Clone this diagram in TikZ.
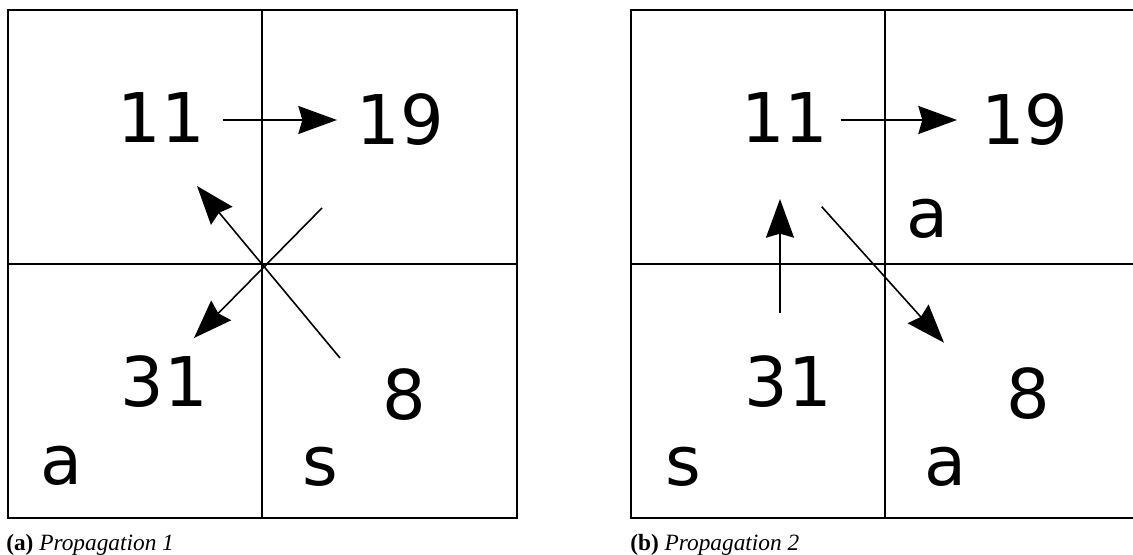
\documentclass[tikz,border=0pt]{standalone}
\usepackage{fontspec}
\usetikzlibrary{arrows.meta}
\newfontfamily\cellfont{DejaVu Sans}
\newfontfamily\capfont{Liberation Serif}

\tikzset{
  gridline/.style={line width=1.5pt, line cap=rect},
  arr/.style={line width=1.2pt, -{Stealth[length=29pt,width=21pt,inset=3pt]}},
  val/.style={anchor=base, inner sep=0pt, font=\cellfont\fontsize{51.4}{60}\selectfont},
  captext/.style={anchor=base west, inner sep=0pt, font=\capfont\fontsize{17.5}{21}\selectfont},
}

\begin{document}
\begin{tikzpicture}[x=0.75pt, y=-0.75pt]
\useasboundingbox (0,0) rectangle (1133,555);

% ---------------- panel (a) ----------------
\draw[gridline] (8,10) rectangle (517,518);
\draw[gridline] (262,10) -- (262,518);
\draw[gridline] (8,264) -- (517,264);

\node[val] (a11) at (161.5,143) {11};
\node[val] (a19) at (400.5,145) {19};
\node[val] (a31) at (164.5,407) {31};
\node[val] (a8)  at (404,420)   {8};
\node[val] (aa)  at (61.5,485)  {a};
\node[val] (as)  at (320.5,486) {s};

\coordinate (a11r) at (222.7,120);
\coordinate (a19l) at (337,120);
\coordinate (a8s)  at (340,358);
\coordinate (a11d) at (197,186);
\coordinate (a19s) at (322,208);
\coordinate (a31u) at (194,338);

\draw[arr] (a11r) -- (a19l);
\draw[arr] (a8s) -- (a11d);
\draw[arr] (a19s) -- (a31u);

\node[captext] (capa) at (6,551) {\textbf{(a)} \textit{Propagation 1}};

% ---------------- panel (b) ----------------
\draw[gridline] (1133,10) -- (630.7,10) -- (630.7,518) -- (1133,518);
\draw[gridline] (885,10) -- (885,518);
\draw[gridline] (630.7,264) -- (1133,264);

\node[val] (b11) at (785,143)    {11};
\node[val] (b19) at (1025,145)   {19};
\node[val] (ba1) at (927.5,238)  {a};
\node[val] (b31) at (788.5,407)  {31};
\node[val] (b8)  at (1028,419)   {8};
\node[val] (bs)  at (683,486)    {s};
\node[val] (ba2) at (945.5,486)  {a};

\coordinate (b11r) at (840.7,120);
\coordinate (b19l) at (957,120);
\coordinate (b31u) at (780,313);
\coordinate (b11d) at (780,199);
\coordinate (b11s) at (821.7,206.7);
\coordinate (b8u)  at (944,342.7);

\draw[arr] (b11r) -- (b19l);
\draw[arr] (b31u) -- (b11d);
\draw[arr] (b11s) -- (b8u);

\node[captext] (capb) at (630,551) {\textbf{(b)} \textit{Propagation 2}};
\end{tikzpicture}
\end{document}
